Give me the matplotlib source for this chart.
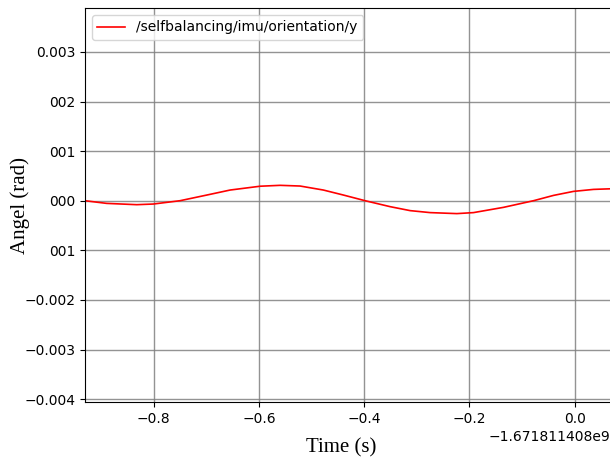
import numpy as np
import matplotlib
matplotlib.use("Agg")
import matplotlib.pyplot as plt
from matplotlib.ticker import ScalarFormatter, FixedLocator, FixedFormatter

# time relative to the offset shown under the x axis
time_offset = -1671811408.0
t_rel = [-0.9306, -0.8894, -0.8323, -0.8008, -0.7500, -0.6992, -0.6549,
         -0.5979, -0.5599, -0.5219, -0.4776, -0.4395, -0.3983, -0.3508,
         -0.3127, -0.2747, -0.2240, -0.1924, -0.1354, -0.0783, -0.0403,
         -0.0023, 0.0357, 0.0675]
angle = [0.0, -0.000054, -0.00008, -0.000067, 0.0, 0.000114, 0.000215,
         0.000292, 0.00031, 0.000296, 0.000215, 0.000114, 0.0, -0.00012,
         -0.0002, -0.00024, -0.00026, -0.00024, -0.000134, 0.0, 0.000107,
         0.000188, 0.000228, 0.00024]

ytick_vals = [0.003, 0.002, 0.001, 0.0, -0.001, -0.002, -0.003, -0.004]
ytick_labels = ["0.003", "002", "001", "000", "001", "\u22120.002", "\u22120.003", "\u22120.004"]

t = np.array(t_rel) + time_offset

fig = plt.figure(figsize=(6.10, 4.59), dpi=100)
ax = fig.add_axes([85 / 610, 57 / 459, 525 / 610, 394 / 459])

ax.plot(t, angle, color="red", linewidth=1.2, label="/selfbalancing/imu/orientation/y")

ax.set_xlim(time_offset - 0.9306, time_offset + 0.067)
ax.set_ylim(-0.004058, 0.003885)

fmt = ScalarFormatter(useOffset=time_offset)
ax.xaxis.set_major_formatter(fmt)
ax.yaxis.set_major_locator(FixedLocator(ytick_vals))
ax.yaxis.set_major_formatter(FixedFormatter(ytick_labels))
ax.tick_params(labelsize=10)

ax.grid(True, color="gray", linewidth=1.0, alpha=0.85)
ax.spines["right"].set_visible(False)

ax.set_xlabel("Time (s)", family="Liberation Serif", fontsize=15)
ax.set_ylabel("Angel (rad)", family="Liberation Serif", fontsize=15)
ax.xaxis.set_label_coords(0.488, -0.092)
ax.yaxis.set_label_coords(-0.105, 0.5)

ax.legend(loc="upper left", fontsize=10)

fig.savefig("out.png", dpi=100)
